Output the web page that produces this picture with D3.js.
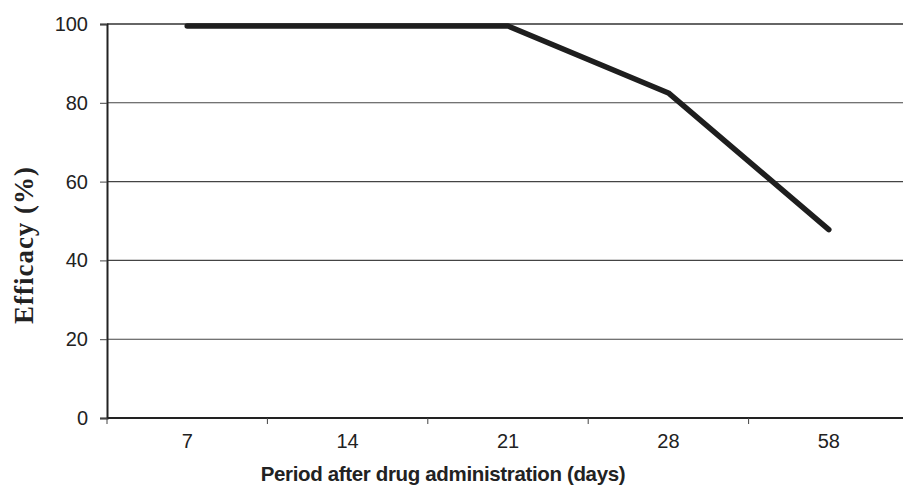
<!DOCTYPE html>
<html><head><meta charset="utf-8">
<script src="https://cdn.jsdelivr.net/npm/d3@7"></script>
<style>body{margin:0;background:#fff}svg{display:block}</style>
</head><body><svg width="903" height="486"></svg>
<script>
const categories = ["7", "14", "21", "28", "58"];
const efficacy = [99.5, 99.5, 99.5, 82.5, 47.8];
const yTicks = [0, 20, 40, 60, 80, 100];

(function () {
const svg = d3.select("svg");
const mLeft = 107, mRight = 909, mTop = 24, mBottom = 418;
const x = d3.scaleBand().domain(categories).range([mLeft, mRight]);
const y = d3.scaleLinear().domain([0, 100]).range([mBottom, mTop]);

// gridlines
svg.append("g").selectAll("line").data(yTicks.filter(d => d > 0)).join("line")
  .attr("x1", mLeft).attr("x2", 903)
  .attr("y1", d => y(d)).attr("y2", d => y(d))
  .attr("stroke", d => d === 100 ? "#333" : "#444")
  .attr("stroke-width", d => d === 100 ? 1.6 : 1.1);

// y axis
const ya = svg.append("g").attr("transform", `translate(${mLeft},0)`)
  .call(d3.axisLeft(y).tickValues(yTicks).tickSize(7).tickPadding(12));
ya.select(".domain").attr("stroke", "#222").attr("stroke-width", 2);
ya.selectAll(".tick line").attr("stroke", "#444");
ya.selectAll("text").attr("font-family", "Liberation Sans, Arial, sans-serif")
  .attr("font-size", 20).attr("fill", "#222");

// x axis
const xa = svg.append("g").attr("transform", `translate(0,${mBottom})`)
  .call(d3.axisBottom(x).tickSize(0).tickPadding(16));
xa.select(".domain").remove();
xa.selectAll("text").attr("font-family", "Liberation Sans, Arial, sans-serif")
  .attr("font-size", 20).attr("fill", "#222");
svg.append("line").attr("x1", mLeft).attr("x2", 903).attr("y1", mBottom).attr("y2", mBottom)
  .attr("stroke", "#222").attr("stroke-width", 2);
svg.append("g").selectAll("line").data(categories).join("line")
  .attr("x1", d => x(d)).attr("x2", d => x(d))
  .attr("y1", mBottom).attr("y2", mBottom + 6)
  .attr("stroke", "#444").attr("stroke-width", 1);

// line
const line = d3.line().x((d, i) => x(categories[i]) + x.bandwidth() / 2).y(d => y(d));
svg.append("path").datum(efficacy).attr("d", line)
  .attr("fill", "none").attr("stroke", "#1e1e1e").attr("stroke-width", 5.5)
  .attr("stroke-linejoin", "round").attr("stroke-linecap", "round");

// axis titles
svg.append("text").attr("x", 443).attr("y", 481).attr("text-anchor", "middle")
  .attr("font-family", "Liberation Sans, Arial, sans-serif").attr("font-weight", "bold")
  .attr("font-size", 20.5).attr("letter-spacing", -0.35).attr("fill", "#222")
  .text("Period after drug administration (days)");
svg.append("text").attr("transform", "translate(33,245) rotate(-90)").attr("text-anchor", "middle")
  .attr("font-family", "Liberation Serif, Times New Roman, serif").attr("font-weight", "bold")
  .attr("font-size", 27).attr("letter-spacing", 1).attr("fill", "#222")
  .text("Efficacy (%)");
})();
</script></body></html>
